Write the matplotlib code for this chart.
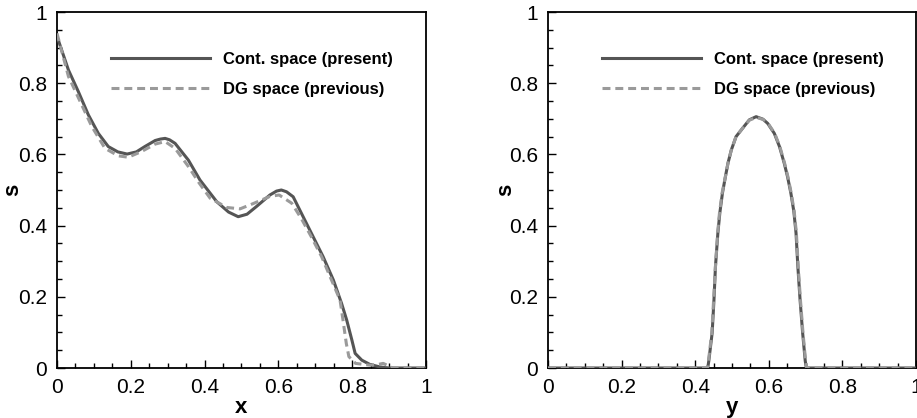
import matplotlib.pyplot as plt
from matplotlib.ticker import MultipleLocator

plt.rcParams["font.family"] = ["Liberation Sans", "DejaVu Sans"]

# left panel: s along x
x_cont_a = [0.0, 0.0035, 0.031, 0.058, 0.085, 0.112, 0.139, 0.165, 0.19, 0.215,
            0.238, 0.266, 0.28, 0.293, 0.305, 0.320, 0.356, 0.3875, 0.433, 0.465,
            0.491, 0.515, 0.541, 0.577, 0.595, 0.608, 0.622, 0.640, 0.667, 0.694,
            0.721, 0.749, 0.771, 0.785, 0.799, 0.808, 0.826, 0.848, 0.875, 0.9, 1.0]
s_cont_a = [0.93, 0.921, 0.837, 0.776, 0.711, 0.659, 0.622, 0.607, 0.601, 0.607,
            0.622, 0.639, 0.643, 0.645, 0.641, 0.631, 0.584, 0.528, 0.467, 0.438,
            0.425, 0.432, 0.454, 0.486, 0.497, 0.500, 0.495, 0.481, 0.425, 0.369,
            0.313, 0.247, 0.182, 0.135, 0.079, 0.041, 0.022, 0.010, 0.003, 0.0, 0.0]
x_dg_a = [0.0, 0.031, 0.067, 0.094, 0.130, 0.166, 0.193, 0.229, 0.266, 0.293,
          0.320, 0.356, 0.385, 0.415, 0.460, 0.496, 0.532, 0.577, 0.602, 0.636,
          0.662, 0.689, 0.717, 0.744, 0.767, 0.775, 0.784, 0.791, 0.809, 0.848,
          0.87, 0.884, 0.91, 1.0]
s_dg_a = [0.94, 0.819, 0.739, 0.679, 0.617, 0.596, 0.592, 0.608, 0.629, 0.636,
          0.617, 0.566, 0.52, 0.477, 0.451, 0.447, 0.462, 0.482, 0.486, 0.463,
          0.420, 0.369, 0.313, 0.247, 0.191, 0.135, 0.069, 0.032, 0.013, 0.008,
          0.01, 0.013, 0.0, 0.0]

# right panel: s along y
y_cont_b = [0.0, 0.434, 0.437, 0.446, 0.451, 0.455, 0.4616, 0.467, 0.474, 0.482,
            0.489, 0.498, 0.511, 0.53, 0.547, 0.5655, 0.584, 0.597, 0.615, 0.629,
            0.642, 0.651, 0.660, 0.668, 0.674, 0.679, 0.685, 0.692, 0.699, 0.702,
            1.0]
s_cont_b = [0.0, 0.0, 0.02, 0.098, 0.191, 0.284, 0.379, 0.436, 0.491, 0.537,
            0.575, 0.612, 0.650, 0.675, 0.697, 0.706, 0.699, 0.687, 0.659, 0.622,
            0.575, 0.537, 0.491, 0.440, 0.379, 0.284, 0.191, 0.098, 0.02, 0.0,
            0.0]
y_dg_b = [0.0, 0.433, 0.436, 0.445, 0.450, 0.455, 0.461, 0.466, 0.473, 0.482,
          0.489, 0.498, 0.511, 0.53, 0.547, 0.566, 0.585, 0.598, 0.616, 0.630,
          0.643, 0.652, 0.661, 0.669, 0.675, 0.680, 0.686, 0.693, 0.700, 0.703,
          1.0]
s_dg_b = [0.0, 0.0, 0.02, 0.098, 0.191, 0.284, 0.379, 0.436, 0.491, 0.537,
          0.575, 0.612, 0.650, 0.675, 0.696, 0.704, 0.698, 0.687, 0.659, 0.622,
          0.575, 0.537, 0.491, 0.440, 0.379, 0.284, 0.191, 0.098, 0.02, 0.0,
          0.0]

tick_vals = [0, 0.2, 0.4, 0.6, 0.8, 1]
tick_labels = ["0", "0.2", "0.4", "0.6", "0.8", "1"]
labels = ["Cont. space (present)", "DG space (previous)"]

fig = plt.figure(figsize=(9.17, 4.18), dpi=100)
ax_a = fig.add_axes([57 / 917, 50 / 418, 369 / 917, 356 / 418])
ax_b = fig.add_axes([548 / 917, 50 / 418, 368 / 917, 356 / 418])

panels = [
    (ax_a, x_cont_a, s_cont_a, x_dg_a, s_dg_a, "x", -0.092),
    (ax_b, y_cont_b, s_cont_b, y_dg_b, s_dg_b, "y", -0.087),
]
for ax, xc, sc, xd, sd, xlabel, ylab_x in panels:
    ax.plot(xc, sc, color="#555555", lw=2.2, label=labels[0], zorder=3,
            solid_joinstyle="round")
    ax.plot(xd, sd, color="#9a9a9a", lw=2.2, dashes=(2.6, 1.6),
            label=labels[1], zorder=4, dash_joinstyle="round")
    ax.set_xlim(0, 1)
    ax.set_ylim(0, 1)
    ax.set_xticks(tick_vals)
    ax.set_xticklabels(tick_labels)
    ax.set_yticks(tick_vals)
    ax.set_yticklabels(tick_labels)
    ax.xaxis.set_minor_locator(MultipleLocator(0.05))
    ax.yaxis.set_minor_locator(MultipleLocator(0.05))
    ax.tick_params(which="both", direction="in", top=False, right=False,
                   labelsize=15, pad=7, width=1)
    ax.tick_params(which="major", length=6)
    ax.tick_params(which="minor", length=3.5)
    for sp in ax.spines.values():
        sp.set_linewidth(1.3)
    ax.set_xlabel(xlabel, fontsize=16, fontweight="bold", labelpad=0)
    ax.set_ylabel("s", fontsize=16, fontweight="bold")
    ax.yaxis.set_label_coords(ylab_x, 0.5)
    ax.legend(loc="upper left", bbox_to_anchor=(0.146, 0.887), frameon=False,
              borderpad=0, borderaxespad=0, handlelength=5.95,
              handletextpad=0.78, labelspacing=0.87,
              prop={"size": 12, "weight": "bold"})

fig.savefig("out.png", dpi=100)
